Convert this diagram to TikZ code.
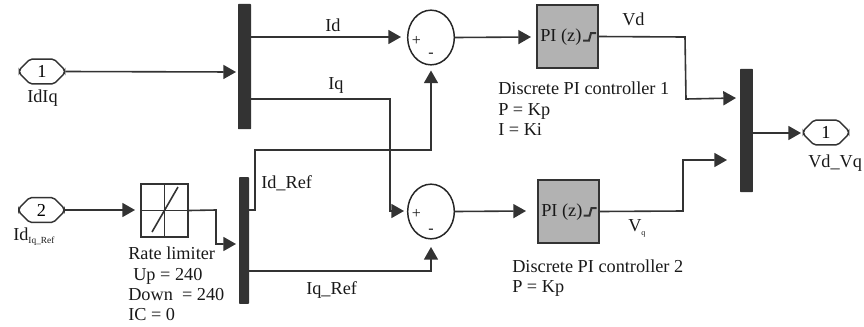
\documentclass[tikz,border=0pt]{standalone}
\usepackage{fontspec}
\setmainfont{Liberation Serif}
\usetikzlibrary{arrows.meta,shapes.misc,shapes.geometric,calc}
\tikzset{
  wire/.style={draw=black!80,line width=1.2pt,-{Triangle[length=9.5pt,width=10.5pt]}},
  plain/.style={draw=black!80,line width=1.2pt},
  mux/.style={draw=none,fill=black!80,rounded corners=0.5pt,inner sep=0,outer sep=0},
  port/.style={draw=black!80,line width=1.1pt,rounded corners=1.5pt,chamfered rectangle,chamfered rectangle xsep=5pt,chamfered rectangle ysep=5pt,inner sep=0,minimum width=34pt,minimum height=18.5pt,font=\fontsize{13.7}{13.7}\selectfont},
  sumb/.style={draw=black!85,line width=1.1pt,ellipse,inner sep=0,minimum width=35pt,minimum height=41pt},
  pib/.style={draw=black!80,line width=1.2pt,fill=black!30,inner sep=0,minimum width=46pt,minimum height=47pt},
  lbl/.style={inner sep=0,anchor=base west,font=\fontsize{13.7}{15}\selectfont,text=black!90},
}
\begin{document}
\begin{tikzpicture}[x=0.75pt,y=-0.75pt]
\useasboundingbox (0,0) rectangle (864,326);
% multiplexer bars
\node[mux,minimum width=9.75pt,minimum height=94pt] (m1) at (244.5,66.5) {};
\node[mux,minimum width=7.5pt,minimum height=95pt] (m2) at (244,240.5) {};
\node[mux,minimum width=9.5pt,minimum height=92.5pt] (m3) at (746.5,130.5) {};
% ports
\node[port] (p1) at (42,71.5) {1};
\node[port] (p2) at (41.5,210) {2};
\node[port] (o1) at (826,132.5) {1};
% rate limiter
\node[draw=black!80,line width=1.2pt,inner sep=0,minimum width=35.25pt,minimum height=39.75pt] (rl) at (164.5,210.5) {};
\draw[plain] (rl.north) -- (rl.south) (rl.west) -- (rl.east);
\draw[plain] ($(rl.center)+(-12.5,21.5)$) -- ($(rl.center)+(13.5,-23.5)$);
% sums
\node[sumb] (s1) at (431,37.5) {};
\node[sumb] (s2) at (431,211.5) {};
\node[lbl,anchor=center,font=\fontsize{12}{12}\selectfont] (s1p) at (416.5,41) {+};
\node[lbl,anchor=center,font=\fontsize{12}{12}\selectfont] (s1m) at (431,55.5) {-};
\node[lbl,anchor=center,font=\fontsize{12}{12}\selectfont] (s2p) at (416.5,214) {+};
\node[lbl,anchor=center,font=\fontsize{12}{12}\selectfont] (s2m) at (431,231) {-};
% PI blocks
\node[pib] (pi1) at (567.5,36.5) {};
\node[pib] (pi2) at (568.5,211.5) {};
\node[lbl] (t1) at (540,41) {PI (z)};
\node[lbl] (t2) at (541,216) {PI (z)};
\draw[plain,line width=1.5pt] (583,40.5) -- (589,40.5) -- (591,33) -- (596,33);
\draw[plain,line width=1.5pt] (583.5,215.5) -- (589.5,215.5) -- (591.5,208) -- (596.5,208);
% connectors
\coordinate (a1) at (236,72);
\coordinate (a2) at (401,37);
\draw[wire] (p1.east) -- (a1);
\draw[wire] (m1.east |- a2) -- (a2);
\coordinate (a3) at (404,211);
\draw[wire] (m1.east |- 0,99) -- (390,99) -- (390,211) -- (a3);
\coordinate (a4) at (135,210);
\draw[wire] (p2.east) -- (a4);
\coordinate (a5) at (236,244);
\draw[wire] (rl.east) -- (216,210) -- (216,244) -- (a5);
\draw[wire] (m2.east |- 0,210) -- (255,210) -- (255,150) -- (431,150) -- (431,70.5);
\draw[wire] (m2.east |- 0,271) -- (431,271) -- (431,247);
\coordinate (a6) at (531,37);
\draw[wire] (s1.east) -- (a6);
\coordinate (a7) at (526,211);
\draw[wire] (s2.east) -- (a7);
\draw[wire] (pi1.east) -- (685,37) -- (686,99) -- (736,98);
\draw[wire] (pi2.east) -- (683,211) -- (683,160) -- (727,160);
\coordinate (a8) at (801,133);
\draw[wire] (m3.east |- a8) -- (a8);
% labels
\node[lbl] (l1) at (325,31) {Id};
\node[lbl] (l2) at (328,89) {Iq};
\node[lbl] (l3) at (27,102) {IdIq};
\node[lbl] (l4) at (13,240) {Id\raisebox{-2.5pt}{\fontsize{7}{7}\selectfont Iq\_Ref}};
\node[lbl] (l5) at (261,188) {Id\_Ref};
\node[lbl] (l6) at (306,294) {Iq\_Ref};
\node[lbl] (l7) at (128,259) {Rate limiter};
\node[lbl] (l8) at (133,280) {Up = 240};
\node[lbl] (l9) at (128,300) {Down\ \ = 240};
\node[lbl] (l10) at (128,320) {IC = 0};
\node[lbl] (l11) at (622,25) {Vd};
\node[lbl] (l12) at (628,231) {V\raisebox{-3pt}{\fontsize{6}{6}\selectfont q}};
\node[lbl] (l13) at (498,94) {Discrete PI controller 1};
\node[lbl] (l14) at (498,115) {P = Kp};
\node[lbl] (l15) at (498,135) {I = Ki};
\node[lbl] (l16) at (512,272) {Discrete PI controller 2};
\node[lbl] (l17) at (512,292) {P = Kp};
\node[lbl] (l18) at (808,167) {Vd\_Vq};
\end{tikzpicture}
\end{document}
